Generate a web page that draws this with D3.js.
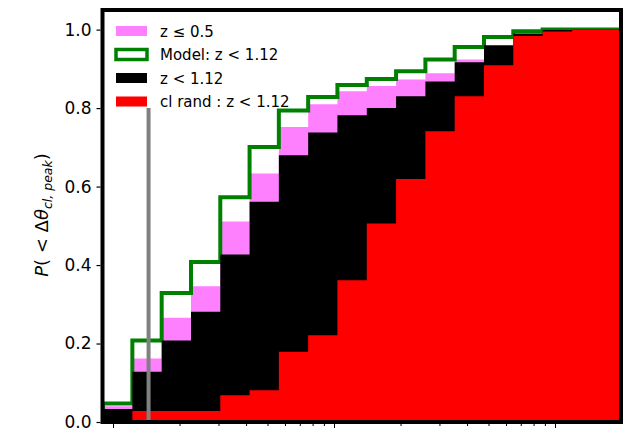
<!doctype html>
<html lang="en">
  <head>
    <meta charset="utf-8">
    <title>Cumulative offset distribution</title>
    <script src="https://d3js.org/d3.v7.min.js"></script>
    <style>
      body { margin: 0; background: #fff; }
      text { font-family: "DejaVu Sans", sans-serif; }
    </style>
  </head>

  <body>
    <svg width="640" height="431"></svg>

    <script>
      // bin edges (log-spaced, arbitrary units; x tick labels are off-canvas)
      var binEdges = [0.901, 1.223, 1.660, 2.253, 3.057, 4.148, 5.628, 7.638, 10.36, 14.07,
                      19.09, 25.91, 35.16, 47.71, 64.75, 87.87, 119.2, 161.8, 219.6];

      // cumulative fractions per bin
      var lowZ   = [0.040, 0.162, 0.266, 0.346, 0.511, 0.633, 0.752, 0.810, 0.843, 0.856, 0.873, 0.889, 0.924, 0.955, 0.985, 0.995, 1.0, 1.0];
      var model  = [0.047, 0.208, 0.329, 0.408, 0.573, 0.701, 0.794, 0.828, 0.859, 0.874, 0.894, 0.924, 0.956, 0.981, 0.996, 1.0, 1.0, 1.0];
      var allZ   = [0.033, 0.128, 0.208, 0.281, 0.427, 0.561, 0.680, 0.738, 0.782, 0.800, 0.830, 0.868, 0.917, 0.960, 0.990, 0.999, 1.0, 1.0];
      var randZ  = [0.0, 0.028, 0.028, 0.028, 0.068, 0.081, 0.179, 0.221, 0.361, 0.506, 0.619, 0.741, 0.830, 0.909, 0.984, 0.995, 1.0, 1.0];

      var markerX = 1.448;   // vertical grey line
      var markerTop = 0.8;

      var yTicks = [0, 0.2, 0.4, 0.6, 0.8, 1.0];
      var legendLabels = ['z \u2264 0.5', 'Model: z < 1.12', 'z < 1.12', 'cl rand :  z < 1.12'];

      var svg = d3.select('svg');
      var mLeft = 102.5, mRight = 621, mTop = 10, mBottom = 422;

      var x = d3.scaleLog().domain([0.896, 198.9]).range([mLeft, mRight]);
      var y = d3.scaleLinear().domain([0, 1.05]).range([mBottom, mTop]);

      svg.append('clipPath').attr('id', 'plot')
        .append('rect').attr('x', mLeft).attr('y', mTop)
        .attr('width', mRight - mLeft).attr('height', mBottom - mTop);

      var g = svg.append('g').attr('clip-path', 'url(#plot)');

      var steps = function(vals){
        var pts = vals.map(function(v, i){ return [binEdges[i], v]; });
        pts.push([binEdges[vals.length], vals[vals.length - 1]]);
        return pts;
      };

      var area = d3.area()
        .x(function(d){ return x(d[0]); })
        .y0(y(0))
        .y1(function(d){ return y(d[1]); })
        .curve(d3.curveStepAfter);

      var line = d3.line()
        .x(function(d){ return x(d[0]); })
        .y(function(d){ return y(d[1]); })
        .curve(d3.curveStepAfter);

      g.append('path').attr('d', area(steps(lowZ))).attr('fill', '#ff80ff');

      var modelPts = [[binEdges[0], 0]].concat(steps(model));
      g.append('path').attr('d', line(modelPts))
        .attr('fill', 'none').attr('stroke', '#008000').attr('stroke-width', 4);

      g.append('path').attr('d', area(steps(allZ))).attr('fill', '#000');
      g.append('path').attr('d', area(steps(randZ))).attr('fill', '#ff0000');

      g.append('line')
        .attr('x1', x(markerX)).attr('x2', x(markerX))
        .attr('y1', y(0)).attr('y2', y(markerTop))
        .attr('stroke', '#808080').attr('stroke-width', 4);

      // axes
      var yAxis = d3.axisLeft(y).tickValues(yTicks).tickFormat(d3.format('.1f'))
        .tickSize(4).tickPadding(5);
      var ya = svg.append('g').attr('transform', 'translate(' + (mLeft - 2) + ',0)').call(yAxis);
      ya.select('.domain').remove();
      ya.selectAll('text').style('font-size', '17px').attr('fill', '#000');
      ya.selectAll('line').attr('stroke-width', 1.2);

      var majors = [1, 10, 100];
      var minors = [];
      [1, 10, 100].forEach(function(dec){
        d3.range(2, 10).forEach(function(m){ if (dec * m < 198.9) minors.push(dec * m); });
      });
      var xa = svg.append('g').attr('transform', 'translate(0,' + (mBottom + 2) + ')')
        .call(d3.axisBottom(x).tickValues(majors).tickFormat('').tickSize(4));
      xa.select('.domain').remove();
      var xm = svg.append('g').attr('transform', 'translate(0,' + (mBottom + 2) + ')')
        .call(d3.axisBottom(x).tickValues(minors).tickFormat('').tickSize(2));
      xm.select('.domain').remove();

      svg.append('rect')
        .attr('x', mLeft).attr('y', mTop)
        .attr('width', mRight - mLeft).attr('height', mBottom - mTop)
        .attr('fill', 'none').attr('stroke', '#000').attr('stroke-width', 4);

      // y label
      var yl = svg.append('text')
        .attr('transform', 'translate(48,215) rotate(-90)')
        .attr('text-anchor', 'middle')
        .style('font-size', '18px');
      yl.append('tspan').style('font-style', 'italic').text('P');
      yl.append('tspan').text('( < \u0394');
      yl.append('tspan').style('font-style', 'italic').text('\u03b8');
      yl.append('tspan').style('font-style', 'italic').style('font-size', '12.5px')
        .attr('dy', 4).text('cl, peak');
      yl.append('tspan').attr('dy', -4).text(')');

      // legend
      var legend = svg.append('g').attr('transform', 'translate(116,31)');
      var items = legend.selectAll('g').data(legendLabels).enter().append('g')
        .attr('transform', function(d, i){ return 'translate(0,' + (i * 23.5) + ')'; });
      items.append('rect')
        .attr('x', 0).attr('y', -5)
        .attr('width', 31).attr('height', 10)
        .attr('fill', function(d, i){ return ['#ff80ff', '#fff', '#000', '#ff0000'][i]; })
        .attr('stroke', function(d, i){ return i === 1 ? '#008000' : 'none'; })
        .attr('stroke-width', 3.5);
      items.append('text')
        .attr('x', 44).attr('y', 5.5)
        .style('font-size', '15px')
        .text(function(d){ return d; });
    </script>
  </body>
</html>
